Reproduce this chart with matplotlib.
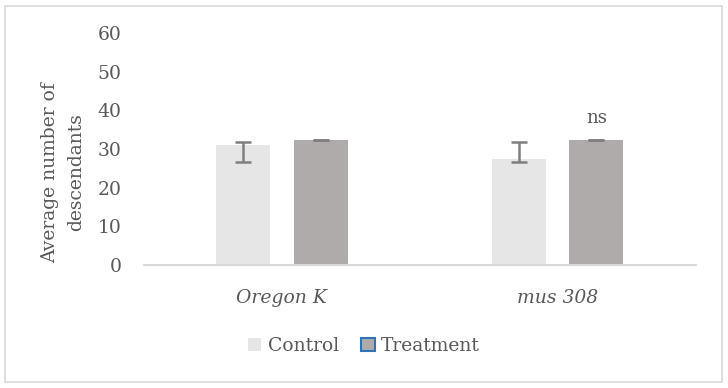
import numpy as np
import matplotlib
matplotlib.use('Agg')
import matplotlib.pyplot as plt
from matplotlib.patches import Patch, Rectangle

# values
categories = ['Oregon K', 'mus 308']
series = ['Control', 'Treatment']
control = [31.0, 27.4]
control_err_low = [4.3, 0.7]
control_err_high = [0.9, 4.3]
treatment = [32.3, 32.3]
treatment_err = [0.1, 0.1]
yticks = [0, 10, 20, 30, 40, 50, 60]

text_col = '#595959'
plt.rcParams['font.family'] = ['DejaVu Serif']

fig = plt.figure(figsize=(7.28, 3.88), dpi=100)
ax = fig.add_axes([144 / 728, 1 - 265 / 388, (695.7 - 144) / 728, (265 - 33) / 388])

x = np.arange(len(categories))
w = 0.196
off = 0.14
ax.bar(x - off, control, w, color='#E7E6E6', zorder=2)
ax.bar(x + off, treatment, w, color='#AFABAB', zorder=2)
ax.errorbar(x - off, control, yerr=[control_err_low, control_err_high], fmt='none',
            ecolor='#7F7F7F', elinewidth=1.8, capsize=5.5, capthick=1.8, zorder=3)
ax.errorbar(x + off, treatment, yerr=treatment_err, fmt='none',
            ecolor='#7F7F7F', elinewidth=1.8, capsize=5.5, capthick=1.8, zorder=3)

ax.text(x[1] + off, treatment[1] + 5.8, 'ns', ha='center', va='center', fontsize=13, color=text_col)

ax.set_xlim(-0.5, 1.5)
ax.set_ylim(0, 60)
ax.set_yticks(yticks)
ax.set_xticks(x)
ax.set_xticklabels(categories, fontstyle='italic')
ax.tick_params(length=0, labelsize=13.5, labelcolor=text_col)
ax.tick_params(axis='y', pad=16)
ax.tick_params(axis='x', pad=17)
for s in ['top', 'right', 'left']:
    ax.spines[s].set_visible(False)
ax.spines['bottom'].set_color('#D9D9D9')
ax.spines['bottom'].set_linewidth(1.5)
ax.set_ylabel('Average number of\ndescendants', fontsize=13.5, color=text_col, linespacing=1.55)
ax.yaxis.set_label_coords(-0.107, 0.40)

handles = [Patch(facecolor='#E7E6E6', edgecolor='none'),
           Patch(facecolor='#AFABAB', edgecolor='#2E75B6', linewidth=1.5)]
fig.legend(handles, series, loc='center', bbox_to_anchor=(0.5, 1 - 346 / 388), ncol=2,
           frameon=False, fontsize=13.5, labelcolor=text_col, handlelength=0.7, handleheight=0.7,
           handletextpad=0.35, columnspacing=1.2)

fig.patches.append(Rectangle((5 / 728, 6 / 388), 717 / 728, 376 / 388, transform=fig.transFigure,
                             fill=False, edgecolor='#D9D9D9', linewidth=1.2))

fig.savefig('out.png', dpi=100)
